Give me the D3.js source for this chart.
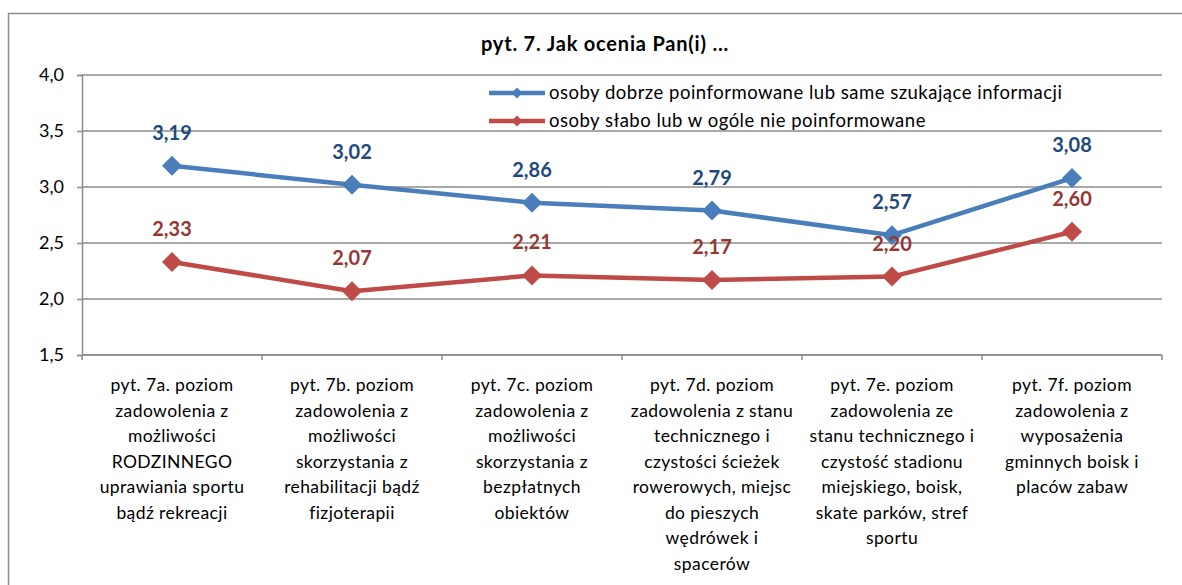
<!DOCTYPE html>
<html>
<head>
<meta charset="utf-8">
<script src="https://cdn.jsdelivr.net/npm/d3@7"></script>
<style>
  html, body { margin: 0; padding: 0; background: #fff; }
  svg { display: block; font-family: Lato, "Open Sans", sans-serif; }
</style>
</head>
<body>
<svg id="chart" width="1182" height="585"></svg>
<script>
// Question categories (each label line listed separately)
const categories = [
  ["pyt. 7a. poziom", "zadowolenia z", "możliwości", "RODZINNEGO", "uprawiania sportu", "bądź rekreacji"],
  ["pyt. 7b. poziom", "zadowolenia z", "możliwości", "skorzystania z", "rehabilitacji bądź", "fizjoterapii"],
  ["pyt. 7c. poziom", "zadowolenia z", "możliwości", "skorzystania z", "bezpłatnych", "obiektów"],
  ["pyt. 7d. poziom", "zadowolenia z stanu", "technicznego i", "czystości ścieżek", "rowerowych, miejsc", "do pieszych", "wędrówek i", "spacerów"],
  ["pyt. 7e. poziom", "zadowolenia ze", "stanu technicznego i", "czystość stadionu", "miejskiego, boisk,", "skate parków, stref", "sportu"],
  ["pyt. 7f. poziom", "zadowolenia z", "wyposażenia", "gminnych boisk i", "placów zabaw"]
];

const seriesNames = [
  "osoby dobrze poinformowane lub same szukające informacji",
  "osoby słabo lub w ogóle nie poinformowane"
];
const wellInformed = [3.19, 3.02, 2.86, 2.79, 2.57, 3.08];
const poorlyInformed = [2.33, 2.07, 2.21, 2.17, 2.20, 2.60];

const yTicks = [1.5, 2.0, 2.5, 3.0, 3.5, 4.0];
const title = "pyt. 7. Jak ocenia Pan(i) ...";

const lineColors = ["#4A7EBB", "#BE4B48"];
const labelColors = ["#1F497D", "#953735"];

const svg = d3.select("#chart");
const fmt = v => d3.format(".2f")(v).replace(".", ",");
const fmt1 = v => d3.format(".1f")(v).replace(".", ",");

// outer chart frame
svg.append("rect")
  .attr("x", 8.5).attr("y", 13.5)
  .attr("width", 1200).attr("height", 600)
  .attr("fill", "none").attr("stroke", "#8c8c8c").attr("stroke-width", 1.5);

const plot = { left: 82, right: 1162, top: 75, bottom: 355 };

const x = d3.scaleBand()
  .domain(d3.range(categories.length))
  .range([plot.left, plot.right])
  .padding(0);

const y = d3.scaleLinear()
  .domain([1.5, 4.0])
  .range([plot.bottom, plot.top]);

// title
svg.append("text")
  .attr("x", 605).attr("y", 51)
  .attr("text-anchor", "middle")
  .attr("font-size", 20).attr("font-weight", "bold")
  .attr("letter-spacing", 0.8)
  .attr("fill", "#000")
  .text(title);

// horizontal gridlines
svg.append("g")
  .selectAll("line")
  .data(yTicks)
  .join("line")
  .attr("x1", plot.left).attr("x2", plot.right)
  .attr("y1", d => y(d)).attr("y2", d => y(d))
  .attr("stroke", "#8c8c8c").attr("stroke-width", 1.5);

// y axis
const yAxis = svg.append("g")
  .attr("transform", `translate(${plot.left},0)`)
  .call(d3.axisLeft(y).tickValues(yTicks).tickFormat(fmt1).tickSize(5).tickPadding(13));
yAxis.select(".domain").attr("stroke", "#8c8c8c").attr("stroke-width", 1.5);
yAxis.selectAll(".tick line").attr("stroke", "#8c8c8c").attr("stroke-width", 1.5);
yAxis.selectAll(".tick text")
  .attr("font-size", 18).attr("font-family", "Lato, sans-serif").attr("fill", "#000");

// x axis with ticks at category boundaries
const bounds = d3.range(categories.length + 1).map(i => plot.left + i * x.bandwidth());
svg.append("g")
  .selectAll("line")
  .data(bounds)
  .join("line")
  .attr("x1", d => d).attr("x2", d => d)
  .attr("y1", plot.bottom).attr("y2", plot.bottom + 5)
  .attr("stroke", "#8c8c8c").attr("stroke-width", 1.5);
svg.append("line")
  .attr("x1", plot.left).attr("x2", plot.right)
  .attr("y1", plot.bottom).attr("y2", plot.bottom)
  .attr("stroke", "#8c8c8c").attr("stroke-width", 1.5);

// category labels
const catG = svg.append("g")
  .selectAll("text")
  .data(categories)
  .join("text")
  .attr("text-anchor", "middle")
  .attr("font-size", 17.5)
  .attr("letter-spacing", 0.4)
  .attr("fill", "#000");
catG.each(function(lines, i) {
  d3.select(this).selectAll("tspan")
    .data(lines)
    .join("tspan")
    .attr("x", x(i) + x.bandwidth() / 2)
    .attr("y", (d, j) => 391 + j * 25.5)
    .text(d => d);
});

// series lines, markers, value labels
const series = [wellInformed, poorlyInformed];
const cx = i => x(i) + x.bandwidth() / 2;
const line = d3.line().x((d, i) => cx(i)).y(d => y(d));

series.forEach((vals, s) => {
  const g = svg.append("g");
  g.append("path")
    .datum(vals)
    .attr("d", line)
    .attr("fill", "none")
    .attr("stroke", lineColors[s])
    .attr("stroke-width", 4.5)
    .attr("stroke-linejoin", "round");
  g.selectAll("path.mk")
    .data(vals)
    .join("path")
    .attr("class", "mk")
    .attr("d", d3.symbol().type(d3.symbolSquare).size(200))
    .attr("transform", (d, i) => `translate(${cx(i)},${y(d)}) rotate(45)`)
    .attr("fill", lineColors[s]);
  g.selectAll("text")
    .data(vals)
    .join("text")
    .attr("x", (d, i) => cx(i))
    .attr("y", d => y(d) - 26)
    .attr("text-anchor", "middle")
    .attr("font-size", 20).attr("font-weight", "bold")
    .attr("fill", labelColors[s])
    .text(d => fmt(d));
});

// legend
const legend = svg.append("g");
seriesNames.forEach((name, s) => {
  const ly = 93 + s * 28;
  legend.append("line")
    .attr("x1", 489).attr("x2", 545).attr("y1", ly).attr("y2", ly)
    .attr("stroke", lineColors[s]).attr("stroke-width", 4.5);
  legend.append("path")
    .attr("d", d3.symbol().type(d3.symbolSquare).size(60))
    .attr("transform", `translate(517,${ly}) rotate(45)`)
    .attr("fill", lineColors[s]);
  legend.append("text")
    .attr("x", 549).attr("y", ly + 6)
    .attr("font-size", 18.5)
    .attr("letter-spacing", 0.5)
    .attr("fill", "#000")
    .text(name);
});
</script>
</body>
</html>
